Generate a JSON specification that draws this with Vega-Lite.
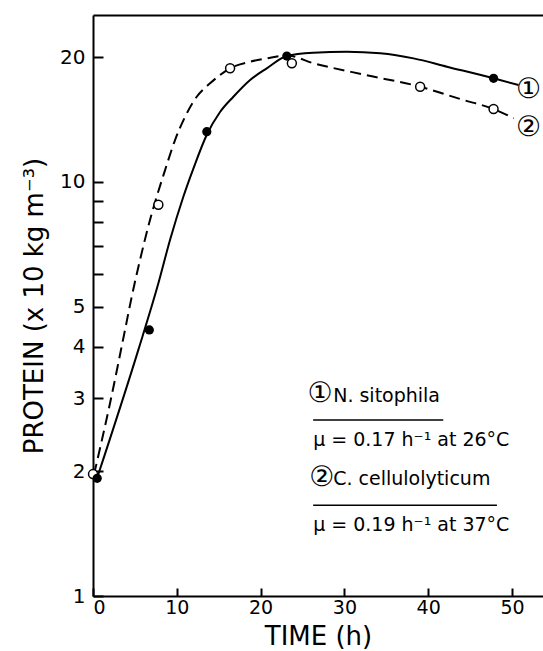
{
  "$schema": "https://vega.github.io/schema/vega-lite/v6.json",
  "width": 450,
  "height": 581,
  "autosize": "none",
  "padding": {"left": 93, "top": 15, "right": 0, "bottom": 55},
  "background": "white",
  "config": {
    "view": {"stroke": null},
    "axis": {
      "domainColor": "black", "domainWidth": 2, "tickColor": "black", "tickWidth": 2,
      "labelColor": "black", "titleColor": "black", "grid": false,
      "labelFont": "DejaVu Sans", "titleFont": "DejaVu Sans", "titleFontWeight": "normal"
    }
  },
  "datasets": {
    "curves": [
      {"series": "1", "t": 0.5, "protein": 1.93},
      {"series": "1", "t": 5.41, "protein": 3.93},
      {"series": "1", "t": 7.8, "protein": 5.69},
      {"series": "1", "t": 9.19, "protein": 7.24},
      {"series": "1", "t": 10.78, "protein": 9.21},
      {"series": "1", "t": 12.0, "protein": 10.8},
      {"series": "1", "t": 13.58, "protein": 13.0},
      {"series": "1", "t": 15.16, "protein": 14.75},
      {"series": "1", "t": 16.75, "protein": 16.06},
      {"series": "1", "t": 18.75, "protein": 17.63},
      {"series": "1", "t": 20.74, "protein": 18.81},
      {"series": "1", "t": 23.13, "protein": 20.14},
      {"series": "1", "t": 26.3, "protein": 20.51},
      {"series": "1", "t": 30.29, "protein": 20.63},
      {"series": "1", "t": 34.27, "protein": 20.45},
      {"series": "1", "t": 38.25, "protein": 19.88},
      {"series": "1", "t": 42.23, "protein": 18.98},
      {"series": "1", "t": 47.8, "protein": 17.79},
      {"series": "1", "t": 50.78, "protein": 17.14},
      {"series": "2", "t": 0.12, "protein": 1.965},
      {"series": "2", "t": 2.03, "protein": 2.92},
      {"series": "2", "t": 3.82, "protein": 4.39},
      {"series": "2", "t": 4.62, "protein": 5.28},
      {"series": "2", "t": 5.61, "protein": 6.48},
      {"series": "2", "t": 6.8, "protein": 8.09},
      {"series": "2", "t": 8.6, "protein": 10.68},
      {"series": "2", "t": 9.79, "protein": 12.62},
      {"series": "2", "t": 10.99, "protein": 14.37},
      {"series": "2", "t": 12.38, "protein": 16.06},
      {"series": "2", "t": 13.97, "protein": 17.3},
      {"series": "2", "t": 16.36, "protein": 18.81},
      {"series": "2", "t": 18.75, "protein": 19.51},
      {"series": "2", "t": 20.74, "protein": 19.88},
      {"series": "2", "t": 23.13, "protein": 20.2},
      {"series": "2", "t": 26.3, "protein": 19.35},
      {"series": "2", "t": 32.68, "protein": 18.1},
      {"series": "2", "t": 39.04, "protein": 16.98},
      {"series": "2", "t": 44.2, "protein": 15.77},
      {"series": "2", "t": 47.8, "protein": 15.0},
      {"series": "2", "t": 50.2, "protein": 14.24}
    ],
    "points": [
      {"series": "2", "t": 0.0, "protein": 1.97},
      {"series": "2", "t": 7.8, "protein": 8.81},
      {"series": "2", "t": 16.36, "protein": 18.81},
      {"series": "2", "t": 23.73, "protein": 19.34},
      {"series": "2", "t": 39.04, "protein": 16.98},
      {"series": "2", "t": 47.8, "protein": 15.0},
      {"series": "1", "t": 0.5, "protein": 1.924},
      {"series": "1", "t": 6.72, "protein": 4.39},
      {"series": "1", "t": 13.58, "protein": 13.22},
      {"series": "1", "t": 23.13, "protein": 20.14},
      {"series": "1", "t": 47.8, "protein": 17.79}
    ],
    "labels": [
      {"kind": "circle", "text": "①", "t": 51.98, "protein": 16.67},
      {"kind": "circle", "text": "②", "t": 51.98, "protein": 13.47},
      {"kind": "circle", "text": "①", "t": 27.1, "protein": 3.07},
      {"kind": "circle", "text": "②", "t": 27.3, "protein": 1.93},
      {"kind": "name", "text": "N. sitophila", "t": 28.66, "protein": 2.934},
      {"kind": "name", "text": "C. cellulolyticum", "t": 28.66, "protein": 1.851},
      {"kind": "rate", "text": "μ = 0.17 h⁻¹ at 26°C", "t": 26.27, "protein": 2.3},
      {"kind": "rate", "text": "μ = 0.19 h⁻¹ at 37°C", "t": 26.27, "protein": 1.436}
    ],
    "underlines": [
      {"t": 26.27, "t2": 41.8, "protein": 2.66},
      {"t": 26.27, "t2": 48.2, "protein": 1.657}
    ]
  },
  "resolve": {"axis": {"x": "independent"}},
  "layer": [
    {
      "data": {"name": "curves"},
      "transform": [{"filter": "datum.series == '1'"}],
      "mark": {"type": "line", "color": "black", "strokeWidth": 2, "interpolate": "monotone"},
      "encoding": {
        "x": {"field": "t", "type": "quantitative",
          "scale": {"domain": [0, 53.7], "nice": false, "zero": false},
          "axis": {"orient": "bottom", "values": [0, 10, 20, 30, 40, 50], "tickSize": -8,
            "labelFontSize": 19, "labelPadding": 10, "title": "TIME  (h)", "titleFontSize": 26, "titlePadding": 6}},
        "y": {"field": "protein", "type": "quantitative",
          "scale": {"type": "log", "domain": [1, 25.3], "nice": false},
          "axis": {"values": [1, 2, 3, 4, 5, 6, 7, 8, 9, 10, 20],
            "labelExpr": "indexof([1, 2, 3, 4, 5, 10, 20], datum.value) >= 0 ? format(datum.value, 'd') : ''",
            "tickSize": -10, "labelPadding": 18, "labelFontSize": 20,
            "title": "PROTEIN  (x 10 kg m⁻³)", "titleFontSize": 26, "titlePadding": 12}}
      }
    },
    {
      "data": {"name": "curves"},
      "transform": [{"filter": "datum.series == '2'"}],
      "mark": {"type": "line", "color": "black", "strokeWidth": 2, "strokeDash": [11, 6], "interpolate": "monotone"},
      "encoding": {
        "x": {"field": "t", "type": "quantitative",
          "axis": {"orient": "top", "labels": false, "ticks": false, "title": null}},
        "y": {"field": "protein", "type": "quantitative"}
      }
    },
    {
      "data": {"name": "points"},
      "transform": [{"filter": "datum.series == '2'"}],
      "mark": {"type": "point", "shape": "circle", "filled": true, "fill": "white", "stroke": "black", "strokeWidth": 1.5, "size": 80, "opacity": 1},
      "encoding": {
        "x": {"field": "t", "type": "quantitative", "axis": null},
        "y": {"field": "protein", "type": "quantitative"}
      }
    },
    {
      "data": {"name": "points"},
      "transform": [{"filter": "datum.series == '1'"}],
      "mark": {"type": "circle", "color": "black", "size": 85, "opacity": 1},
      "encoding": {
        "x": {"field": "t", "type": "quantitative", "axis": null},
        "y": {"field": "protein", "type": "quantitative"}
      }
    },
    {
      "data": {"name": "underlines"},
      "mark": {"type": "rule", "color": "black", "strokeWidth": 1.5},
      "encoding": {
        "x": {"field": "t", "type": "quantitative", "axis": null},
        "x2": {"field": "t2"},
        "y": {"field": "protein", "type": "quantitative"}
      }
    },
    {
      "data": {"name": "labels"},
      "transform": [{"filter": "datum.kind == 'circle'"}],
      "mark": {"type": "text", "font": "DejaVu Sans", "fontSize": 28, "align": "center", "baseline": "middle", "color": "black"},
      "encoding": {
        "x": {"field": "t", "type": "quantitative", "axis": null},
        "y": {"field": "protein", "type": "quantitative"},
        "text": {"field": "text"}
      }
    },
    {
      "data": {"name": "labels"},
      "transform": [{"filter": "datum.kind != 'circle'"}],
      "mark": {"type": "text", "font": "DejaVu Sans", "fontSize": 19, "align": "left", "baseline": "alphabetic", "color": "black"},
      "encoding": {
        "x": {"field": "t", "type": "quantitative", "axis": null},
        "y": {"field": "protein", "type": "quantitative"},
        "text": {"field": "text"}
      }
    }
  ]
}
